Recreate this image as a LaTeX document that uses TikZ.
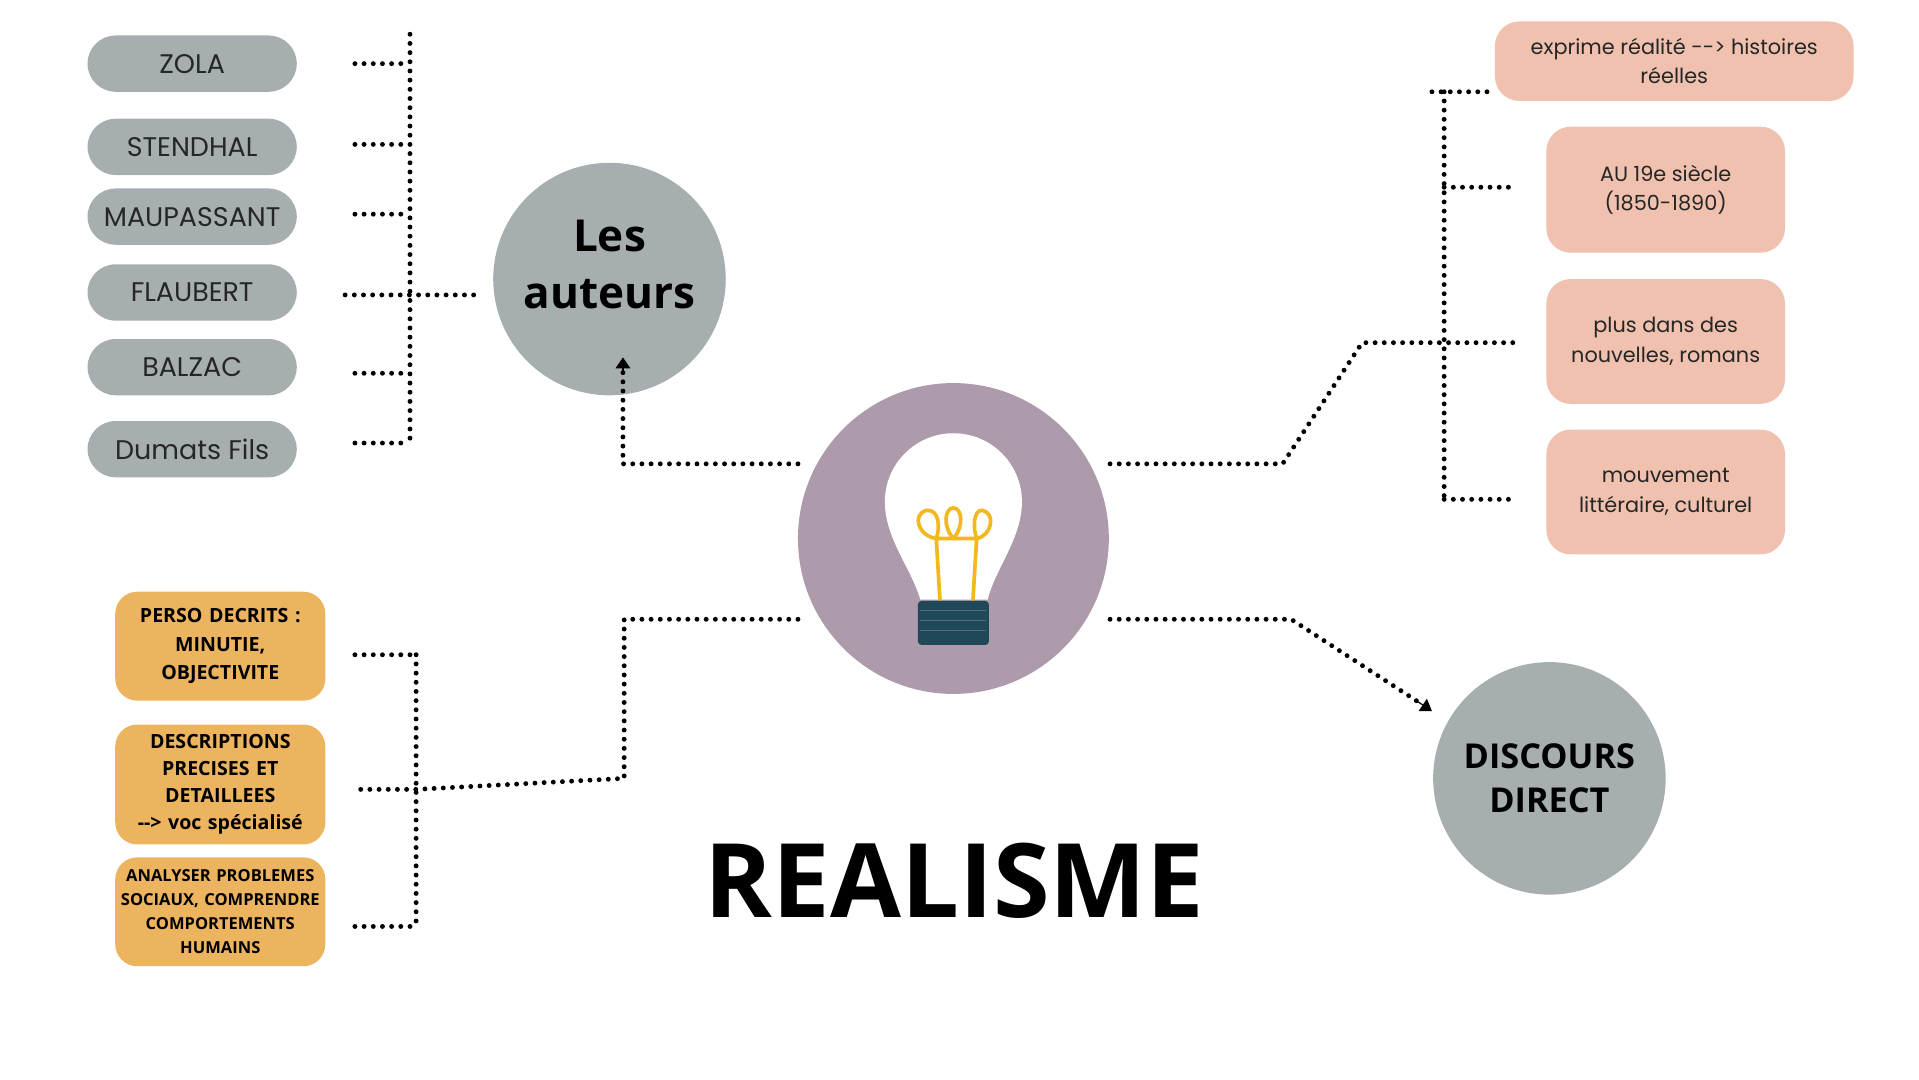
\documentclass[tikz,border=0pt]{standalone}
\usepackage{fontspec}
\setmainfont{Poppins}
\newfontfamily\opsans{Open Sans}
\usetikzlibrary{arrows.meta}
\definecolor{grayc}{HTML}{A7AEAF}
\definecolor{purp}{HTML}{AD9AAB}
\definecolor{pinkc}{HTML}{EFC1AE}
\definecolor{orangec}{HTML}{EDB45F}
\definecolor{basec}{HTML}{1F4858}
\definecolor{filc}{HTML}{F2B81E}
\tikzset{
 pill/.style={fill=grayc,rounded corners=23pt,minimum width=171pt,minimum height=46pt,font=\fontsize{22}{24}\selectfont,text=black!85},
 pinkbox/.style={fill=pinkc,rounded corners=20pt,align=center,font=\fontsize{17}{24}\selectfont,text=black!85},
 orbox/.style={fill=orangec,rounded corners=18pt,align=center,minimum width=169pt,text width=165pt},
 dots/.style={line width=4pt,dash pattern=on 0pt off 7.5pt,line cap=round},
 bigc/.style={circle,fill=grayc,minimum size=190pt},
 bigt/.style={align=center,font=\opsans\bfseries\fontsize{36}{47}\selectfont},
}
\begin{document}
\begin{tikzpicture}[x=1pt,y=-1pt]
\useasboundingbox (0,0) rectangle (1568,882);
% pills
\node[pill] (zola) at (157,52) {ZOLA};
\node[pill] (sten) at (157,120) {STENDHAL};
\node[pill] (maup) at (157,177) {MAUPASSANT};
\node[pill] (flau) at (157,239) {FLAUBERT};
\node[pill] (balz) at (157,300) {BALZAC};
\node[pill] (duma) at (157,367) {Dumats Fils};
\coordinate (lv1) at (335,28); \coordinate (lv2) at (335,363);
\draw[dots] (lv1) -- (lv2);
\foreach \y in {52,118,175,305,362} \draw[dots] (290,\y) -- (333,\y);
\draw[dots] (282,241) -- (390,241);
\node[bigc] (aut) at (498,228) {};
\node[bigt] (autt) at (498,216) {Les\\auteurs};
% center
\node[circle,fill=purp,minimum size=254pt] (ctr) at (779,440) {};
\fill[white] (752,490) .. controls (745,465) and (723,440) .. (723,410) arc (180:360:56) .. controls (835,440) and (813,465) .. (807,490) -- cycle;
\draw[filc,line width=3pt,line cap=round] (768,490) -- (765,440) (795,490) -- (798,440)
 (765,440) .. controls (750,438) and (745,420) .. (757,417) .. controls (768,416) and (768,432) .. (765,440)
 (765,440) -- (798,440)
 (779,440) .. controls (770,430) and (772,415) .. (779,415) .. controls (786,415) and (788,430) .. (779,440)
 (798,440) .. controls (795,432) and (795,416) .. (803,417) .. controls (814,420) and (810,438) .. (798,440);
\fill[basec,rounded corners=3pt] (750,491) rectangle (808,527);
\foreach \y in {499,507,515} \draw[purp!40!basec,line width=1.2pt] (752,\y) -- (806,\y);
% left arrow to auteurs
\draw[dots] (652,379) -- (509,379) -- (509,302);
\draw[-{Triangle[length=9pt,width=12pt]},line width=1pt] (509,304) -- (509,292);
% right side
\draw[dots] (907,379) -- (1048,379) -- (1113,280) -- (1237,280);
\draw[dots] (1180,75) -- (1180,410);
\draw[dots] (1170,75) -- (1220,75);
\draw[dots] (1180,153) -- (1237,153);
\draw[dots] (1180,408) -- (1240,408);
\node[pinkbox,minimum width=293pt,minimum height=65pt] (p1) at (1368,50) {exprime réalité {-}{-}> histoires\\réelles};
\node[pinkbox,minimum width=195pt,minimum height=103pt] (p2) at (1361,155) {AU 19e siècle\\(1850-1890)};
\node[pinkbox,minimum width=195pt,minimum height=102pt] (p3) at (1361,279) {plus dans des\\nouvelles, romans};
\node[pinkbox,minimum width=195pt,minimum height=102pt] (p4) at (1361,402) {mouvement\\littéraire, culturel};
% discours
\draw[dots] (907,506) -- (1055,506) -- (1158,573);
\draw[-{Triangle[length=9pt,width=12pt]},line width=1pt] (1158,573) -- (1170,581);
\node[bigc] (disc) at (1266,636) {};
\node[bigt,font=\opsans\bfseries\fontsize{28}{36}\selectfont] (disct) at (1266,636) {DISCOURS\\DIRECT};
% bottom-left
\draw[dots] (652,506) -- (510,506) -- (510,636) -- (340,645) -- (290,645);
\draw[dots] (340,535) -- (340,757);
\draw[dots] (290,535) -- (338,535);
\draw[dots] (290,757) -- (338,757);
\node[orbox,minimum height=89pt,font=\opsans\bfseries\fontsize{16}{23.5}\selectfont] (o1) at (180,528) {PERSO DECRITS :\\MINUTIE,\\OBJECTIVITE};
\node[orbox,minimum height=98pt,font=\opsans\bfseries\fontsize{16}{22}\selectfont] (o2) at (180,641) {DESCRIPTIONS\\PRECISES ET\\DETAILLEES\\{-}{-}> voc spécialisé};
\node[orbox,minimum height=89pt,font=\opsans\bfseries\fontsize{13.5}{19.5}\selectfont] (o3) at (180,745) {ANALYSER PROBLEMES\\SOCIAUX, COMPRENDRE\\COMPORTEMENTS\\HUMAINS};
\node[font=\opsans\bfseries\fontsize{84}{90}\selectfont] (title) at (780,720) {REALISME};
\end{tikzpicture}
\end{document}
